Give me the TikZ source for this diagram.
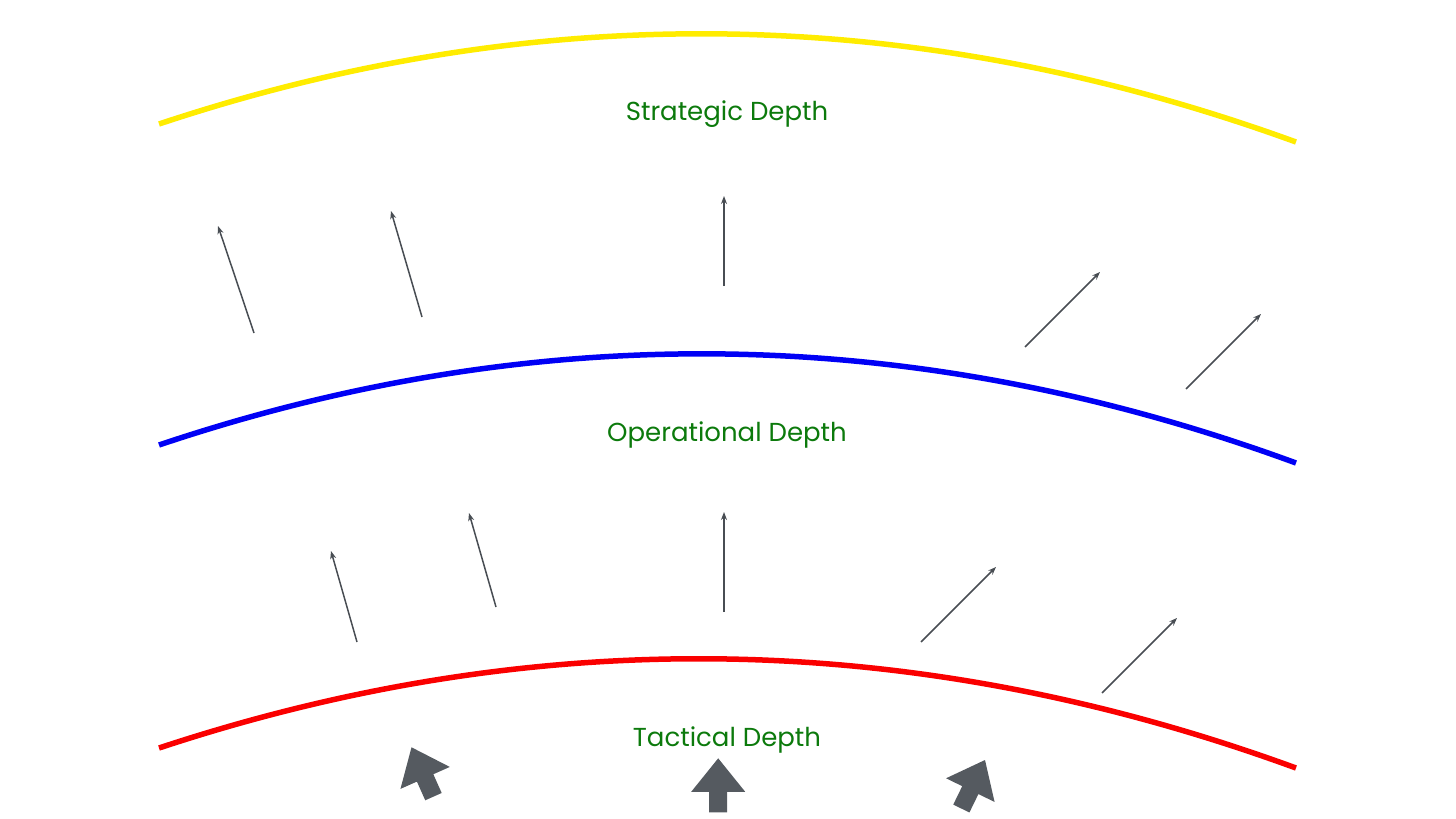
\documentclass[tikz,border=0pt]{standalone}
\usepackage{fontspec}
\setmainfont{Poppins}
\usetikzlibrary{arrows.meta}
\definecolor{depthgreen}{RGB}{12,122,12}
\definecolor{arrowgray}{RGB}{72,77,83}
\definecolor{bigarrow}{RGB}{85,90,96}
\definecolor{strat}{RGB}{255,236,0}
\definecolor{oper}{RGB}{0,0,245}
\definecolor{tact}{RGB}{250,0,0}
\tikzset{
  band/.style={line width=5.5pt},
  lbl/.style={text=depthgreen, font=\fontsize{26}{29}\selectfont, inner sep=0pt, anchor=center},
  thin/.style={draw=arrowgray, line width=1.5pt, -{Stealth[length=8pt,width=6pt]}},
  fat/.style={fill=bigarrow, draw=none}
}
\newcommand{\fatarrow}[3]{%
  \fill[fat, shift={(#1,#2)}, rotate=#3]
    (0,0) -- (27,33.5) -- (9,33.5) -- (9,54) -- (-9,54) -- (-9,33.5) -- (-27,33.5) -- cycle;}
\begin{document}
\begin{tikzpicture}[x=1pt,y=-1pt]
\useasboundingbox (0,0) rectangle (1456,819);
% depth lines
\draw[band, strat] (159,124) .. controls (537.7,-2) and (916.7,4) .. (1296,142);
\draw[band, oper] (159,445) .. controls (537.7,317.7) and (916.7,323.7) .. (1296,463);
\draw[band, tact] (159,748) .. controls (537.7,622.7) and (916.7,629.3) .. (1296,768);
% labels
\node[lbl] (s) at (727,114) {Strategic Depth};
\node[lbl] (o) at (727,435) {Operational Depth};
\node[lbl] (t) at (727,740) {Tactical Depth};
% upper thin arrows
\draw[thin] (254,333) -- (218,226);
\draw[thin] (422,317) -- (391,211);
\draw[thin] (724,286) -- (724,196);
\draw[thin] (1025,347) -- (1100,272);
\draw[thin] (1186,389) -- (1261,314);
% lower thin arrows
\draw[thin] (357,642) -- (331,551);
\draw[thin] (496,607) -- (469,513);
\draw[thin] (724,612) -- (724,512);
\draw[thin] (921,642) -- (996,567);
\draw[thin] (1102,693) -- (1177,618);
% thick arrows
\fatarrow{411.5}{747.3}{24}
\fatarrow{718.2}{758.3}{0}
\fatarrow{985}{760}{-26}
\end{tikzpicture}
\end{document}
